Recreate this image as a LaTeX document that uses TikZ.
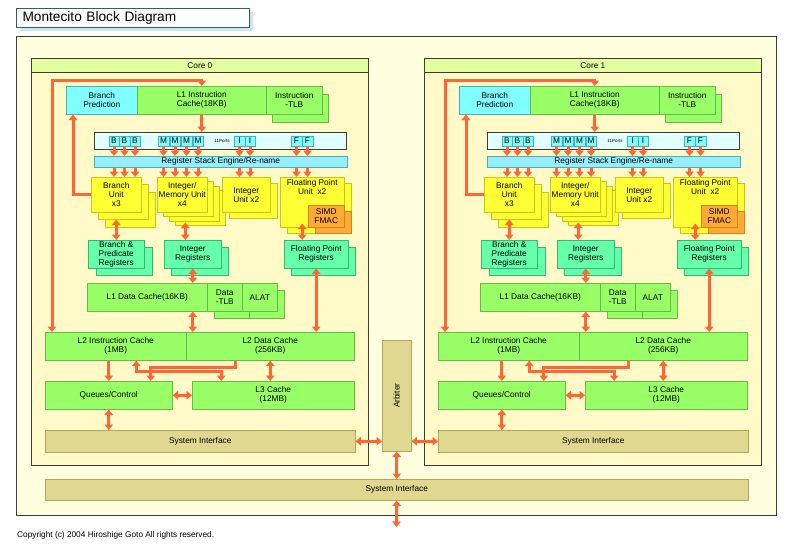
\documentclass[tikz,border=0pt]{standalone}
\usepackage{fontspec}
\setmainfont{Liberation Sans}
\usetikzlibrary{
    arrows.meta,
    calc,
    positioning
}
\definecolor{flowc}{RGB}{255,102,51}
\definecolor{chipbg}{RGB}{255,255,224}
\definecolor{corebody}{RGB}{255,250,200}
\definecolor{corehead}{RGB}{226,255,160}
\definecolor{coreline}{RGB}{60,60,60}
\definecolor{cachegreen}{RGB}{153,255,102}
\definecolor{cacheline}{RGB}{100,190,70}
\definecolor{unityellow}{RGB}{255,255,51}
\definecolor{unitline}{RGB}{200,200,20}
\definecolor{simdorange}{RGB}{255,170,51}
\definecolor{simdline}{RGB}{210,130,30}
\definecolor{regmint}{RGB}{102,255,170}
\definecolor{regline}{RGB}{50,185,120}
\definecolor{bpcyan}{RGB}{128,255,255}
\definecolor{bpline}{RGB}{70,175,195}
\definecolor{rsecyan}{RGB}{150,238,255}
\definecolor{portbar}{RGB}{225,255,255}
\definecolor{sikhaki}{RGB}{224,216,144}
\definecolor{siline}{RGB}{175,165,95}
\definecolor{titleline}{RGB}{40,100,100}
\definecolor{titleshade}{RGB}{205,228,248}
\newcommand{\boxfont}{\fontsize{8.3}{8.9}\selectfont}
\newcommand{\smallfont}{\fontsize{8.3}{9}\selectfont}

\begin{document}
\begin{tikzpicture}[x=1pt, y=-1pt,
    box/.style={draw, anchor=north west, inner sep=1pt, align=center, font=\boxfont, line width=0.5pt},
    cache/.style={box, fill=cachegreen, draw=cacheline},
    unit/.style={box, fill=unityellow, draw=unitline},
    simd/.style={box, fill=simdorange, draw=simdline},
    reg/.style={box, fill=regmint, draw=regline},
    bpbox/.style={box, fill=bpcyan, draw=bpline},
    sysbox/.style={box, fill=sikhaki, draw=siline, font=\smallfont},
    portbox/.style={draw=bpline, fill=bpcyan, line width=0.5pt, inner sep=0pt, minimum width=10.5pt, minimum height=10pt, font=\boxfont},
    arr/.style={draw=flowc, line width=3pt, -{Triangle[width=8.5pt,length=5.5pt]}},
    biarr/.style={arr, {Triangle[width=8.5pt,length=5.5pt]}-{Triangle[width=8.5pt,length=5.5pt]}}
]
\useasboundingbox (0,0) rectangle (800,552);
% chip and title
\draw[coreline, fill=chipbg, line width=0.7pt] (16,36) rectangle (776,515);
\fill[titleshade] (20,12) rectangle (253,31);
\node[draw=titleline, fill=white, line width=1pt, anchor=north west, inner xsep=6pt,
      text width=221pt, minimum height=19pt, align=left, font=\fontsize{13.7}{15}\selectfont] (title) at (16,8) {Montecito Block Diagram};
% the two cores
\foreach \c/\dx in {0/0pt, 1/393pt}{
\begin{scope}[xshift=\dx, name prefix=c\c-]
    \node[box, fill=corebody, draw=coreline, line width=0.7pt, minimum width=337pt, minimum height=407pt] (body) at (31,58) {};
    \node[box, fill=corehead, draw=coreline, line width=0.7pt, minimum width=337pt, minimum height=14pt, font=\smallfont] (head) at (31,58) {Core \c};
    % front end
    \node[bpbox, minimum width=71pt, minimum height=28pt] (bp) at (66,86) {Branch\\Prediction};
    \node[cache, minimum width=129pt, minimum height=28pt] (l1ic) at (137,86) {L1 Instruction\\Cache(18KB)};
    \draw[cache] (272,94) rectangle (328,122);
    \node[cache, minimum width=56pt, minimum height=28pt] (itlb) at (266,86) {Instruction\\-TLB};
    \node[box, fill=portbar, draw=coreline, minimum width=252pt, minimum height=17pt] (ports) at (94,132) {};
    \node[font=\fontsize{4.5}{5}\selectfont, inner sep=0pt] (plabel) at (222,141) {11Ports};
    \node[box, fill=rsecyan, draw=bpline, minimum width=253pt, minimum height=11pt] (rse) at (94,156) {Register Stack Engine/Re-name};
    % execution units
    \foreach \k in {2,1}
        \draw[unit] (91+7*\k,177+7.5*\k) rectangle ++(50,35);
    \node[unit, minimum width=50pt, minimum height=35pt] (bu) at (91,177) {Branch\\Unit\\x3};
    \foreach \k in {3,2,1}
        \draw[unit] (157+6*\k,177+4.5*\k) rectangle ++(50,35);
    \node[unit, minimum width=50pt, minimum height=35pt] (imu) at (157,177) {Integer/\\Memory Unit\\x4};
    \draw[unit] (229,183) rectangle (277,218);
    \node[unit, minimum width=48pt, minimum height=35pt] (iu) at (222,177) {Integer\\Unit x2};
    \draw[unit] (287,183) rectangle (351,233);
    \draw[simd] (315,211) rectangle (351,233);
    \node[unit, minimum width=64pt, minimum height=50pt,
          label={[font=\boxfont, align=center, anchor=north, inner sep=2pt]north:{Floating Point\\Unit~~x2}}] (fpu) at (280,177) {};
    \node[simd, minimum width=36pt, minimum height=22pt] (fmac) at (308,205) {SIMD\\FMAC};
    % register files
    \draw[reg] (96,247) rectangle (152,275);
    \node[reg, minimum width=56pt, minimum height=28pt] (bpr) at (88,240) {Branch \&\\Predicate\\Registers};
    \draw[reg] (171,247) rectangle (228,275);
    \node[reg, minimum width=57pt, minimum height=28pt] (ir) at (164,240) {Integer\\Registers};
    \draw[reg] (291,247) rectangle (355,275);
    \node[reg, minimum width=64pt, minimum height=28pt] (fpr) at (284,240) {Floating Point\\Registers};
    % caches
    \draw[cache] (214,290) rectangle (249,318);
    \draw[cache] (249,290) rectangle (284,318);
    \node[cache, minimum width=120pt, minimum height=28pt] (l1dc) at (87,283) {L1 Data Cache(16KB)};
    \node[cache, minimum width=35pt, minimum height=28pt] (dtlb) at (207,283) {Data\\-TLB};
    \node[cache, minimum width=35pt, minimum height=28pt] (alat) at (242,283) {ALAT};
    \node[cache, minimum width=141pt, minimum height=28pt] (l2ic) at (45,332) {L2 Instruction Cache\\(1MB)};
    \node[cache, minimum width=168pt, minimum height=28pt] (l2dc) at (186,332) {L2 Data Cache\\(256KB)};
    \node[cache, minimum width=127pt, minimum height=28pt] (qc) at (45,381) {Queues/Control};
    \node[cache, minimum width=162pt, minimum height=28pt] (l3) at (192,381) {L3 Cache\\(12MB)};
    \node[sysbox, minimum width=310pt, minimum height=22pt] (si) at (45,430) {System Interface};
    % issue ports
    \foreach \p/\px/\t/\u in {b1/114/B/bu, b2/124.5/B/bu, b3/135/B/bu,
                              m1/163.5/M/imu, m2/175/M/imu, m3/186.5/M/imu, m4/198/M/imu,
                              i1/239.5/I/iu, i2/250/I/iu, f1/296.5/F/fpu, f2/307.5/F/fpu}{
        \node[portbox] (\p) at (\px,141) {\t};
        \draw[arr] (\p.south) -- (\p.south |- rse.north);
        \draw[arr] (\p.south |- rse.south) -- (\p.south |- \u.north);
    }
    % data paths
    \draw[biarr] ([xshift=7pt]l2ic.north west) |- ([yshift=6pt]l1ic.north) -- (l1ic.north);
    \draw[arr] (bu.west) -| ([xshift=7pt]bp.south west);
    \draw[arr] (l1ic.south) -- (l1ic.south |- ports.north);
    \draw[biarr] (bpr.north) -- ([yshift=-7pt]bu.south);
    \draw[biarr] ([xshift=-7.5pt]ir.north) -- ([xshift=3pt,yshift=-10pt]imu.south);
    \draw[biarr] ([xshift=-14pt]fpr.north) -- ([xshift=-10pt,yshift=4pt]fpu.south);
    \draw[biarr] (ir.south) -- (ir.south |- l1dc.north);
    \draw[biarr] (fpr.south) -- (fpr.south |- l2dc.north);
    \draw[biarr] (ir.south |- l1dc.south) -- (ir.south |- l2dc.north);
    \draw[arr] (qc.north |- l2ic.south) -- (qc.north);
    \draw[arr] ([xshift=-35pt]l2dc.south) |- ([xshift=42pt,yshift=14pt]qc.north) -- ([xshift=42pt]qc.north);
    \draw[biarr] ([xshift=20.5pt]l2ic.south) |- ([xshift=-52pt,yshift=10pt]l3.north) -- ([xshift=-52pt]l3.north);
    \draw[biarr] (l2dc.south) -- (l2dc.south |- l3.north);
    \draw[biarr] (qc.east) -- (qc.east -| l3.west);
    \draw[biarr] (qc.south) -- (qc.south |- si.north);
\end{scope}
}
% shared part
\node[sysbox, minimum width=29pt, minimum height=111pt,
      label={[rotate=90, font=\smallfont]center:Arbiter}] (arb) at (382,340) {};
\node[sysbox, minimum width=703pt, minimum height=21pt] (sys) at (45,479) {System Interface};
\coordinate (ext) at (396.5,527);
\draw[biarr] (c0-si.east) -- (c0-si.east -| arb.west);
\draw[biarr] (c1-si.west) -- (c1-si.west -| arb.east);
\draw[biarr] (arb.south) -- (arb.south |- sys.north);
\draw[biarr] (sys.south) -- (ext);
\node[anchor=west, font=\smallfont, inner sep=0pt] (note) at (17,535) {Copyright (c) 2004 Hiroshige Goto All rights reserved.};
\end{tikzpicture}
\end{document}
